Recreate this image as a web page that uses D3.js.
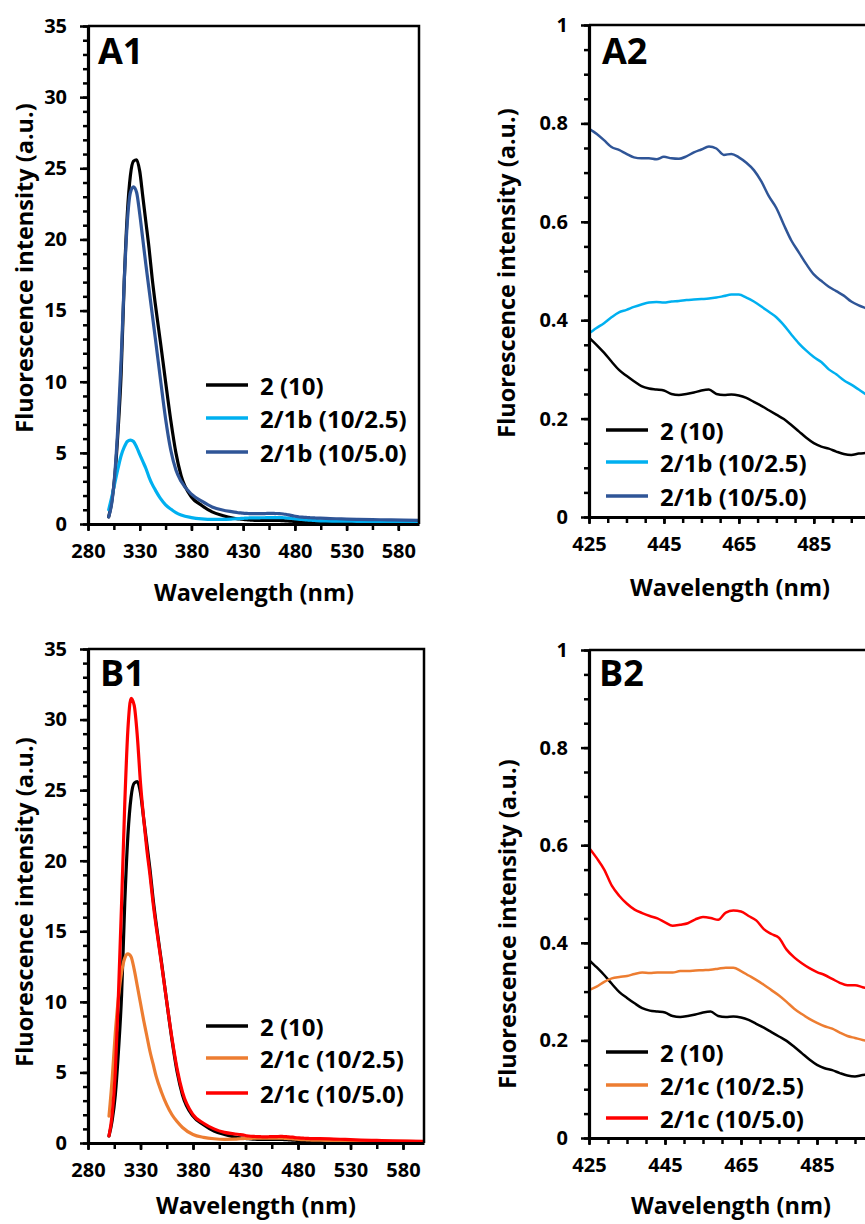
<!DOCTYPE html>
<html>
<head>
<meta charset="utf-8">
<script src="https://cdn.jsdelivr.net/npm/d3@7"></script>
<style>
  body { margin: 0; background: #fff; }
  svg { display: block; }
  text { font-family: "Open Sans", sans-serif; font-weight: 700; fill: #000; }
</style>
</head>
<body>
<svg id="fig" width="865" height="1224"></svg>
<script>
// Emission wavelengths (nm) shared by every spectrum
const wavelength = [
  300, 303, 306, 309, 312, 315, 318, 321, 324, 327, 330, 333, 336, 339, 342, 345,
  350, 355, 360, 365, 370, 380, 390, 400, 410, 420,
  425, 427, 429, 431, 433, 435, 437, 439, 441, 443, 445, 447, 449, 451, 453, 455,
  457, 459, 461, 463, 465, 467, 469, 471, 473, 475, 477, 479, 481, 483, 485, 487,
  489, 491, 493, 495, 497, 499, 501,
  510, 525, 540, 555, 570, 585, 600
];

// Fluorescence intensity (a.u.) of each mixture
const int2 = [
  0.5, 1.6, 3.4, 6.5, 10.5, 17.0, 21.8, 24.5, 25.5, 25.6, 24.8, 23.0, 21.2, 19.4, 17.3, 15.5,
  12.8, 10.0, 7.3, 5.0, 3.4, 1.9, 1.3, 0.85, 0.6, 0.42,
  0.365, 0.350, 0.334, 0.316, 0.299, 0.287, 0.276, 0.266, 0.261, 0.259, 0.257, 0.250, 0.248, 0.250, 0.253, 0.257,
  0.259, 0.250, 0.248, 0.249, 0.247, 0.242, 0.234, 0.226, 0.217, 0.208, 0.199, 0.187, 0.174, 0.161, 0.150, 0.143,
  0.139, 0.133, 0.128, 0.126, 0.129, 0.130, 0.131,
  0.12, 0.10, 0.08, 0.07, 0.06, 0.05, 0.05
];
const int2_1b_25 = [
  1.0, 1.9, 2.9, 3.9, 4.8, 5.4, 5.8, 5.9, 5.8, 5.4, 4.9, 4.4, 3.9, 3.3, 2.8, 2.4,
  1.8, 1.35, 1.05, 0.8, 0.63, 0.45, 0.36, 0.32, 0.32, 0.35,
  0.373, 0.384, 0.394, 0.406, 0.416, 0.421, 0.427, 0.432, 0.436, 0.437, 0.436, 0.438, 0.439, 0.441, 0.442, 0.443,
  0.444, 0.446, 0.449, 0.452, 0.452, 0.446, 0.438, 0.428, 0.417, 0.406, 0.390, 0.371, 0.353, 0.338, 0.325, 0.315,
  0.300, 0.290, 0.278, 0.269, 0.259, 0.249, 0.242,
  0.22, 0.20, 0.19, 0.18, 0.17, 0.16, 0.15
];
const int2_1b_50 = [
  0.5, 1.5, 3.6, 7.0, 11.5, 17.0, 21.2, 23.3, 23.7, 23.3, 21.8, 20.0, 18.2, 16.5, 14.8, 13.1,
  10.2, 7.4, 5.2, 3.8, 3.0, 2.1, 1.6, 1.2, 0.98, 0.85,
  0.790, 0.779, 0.766, 0.752, 0.746, 0.738, 0.731, 0.729, 0.729, 0.727, 0.732, 0.729, 0.728, 0.733, 0.741, 0.747,
  0.753, 0.749, 0.736, 0.738, 0.731, 0.720, 0.705, 0.682, 0.652, 0.628, 0.594, 0.562, 0.538, 0.514, 0.493, 0.480,
  0.468, 0.459, 0.450, 0.438, 0.430, 0.424, 0.418,
  0.39, 0.36, 0.33, 0.31, 0.29, 0.27, 0.26
];
const int2_1c_25 = [
  1.9, 4.5, 7.8, 10.3, 12.1, 13.1, 13.4, 13.2, 12.3, 11.1, 9.9, 8.7, 7.6, 6.5, 5.6, 4.7,
  3.6, 2.7, 2.0, 1.5, 1.1, 0.6, 0.4, 0.3, 0.26, 0.27,
  0.303, 0.310, 0.320, 0.327, 0.330, 0.332, 0.336, 0.339, 0.338, 0.339, 0.339, 0.339, 0.342, 0.342, 0.343, 0.344,
  0.345, 0.347, 0.349, 0.349, 0.342, 0.333, 0.324, 0.314, 0.303, 0.292, 0.279, 0.265, 0.254, 0.244, 0.236, 0.229,
  0.224, 0.216, 0.209, 0.205, 0.201, 0.198, 0.196,
  0.18, 0.16, 0.14, 0.13, 0.12, 0.11, 0.10
];
const int2_1c_50 = [
  0.5, 2.0, 5.0, 10.5, 17.0, 24.0, 29.3, 31.5, 31.0, 28.8, 25.5, 23.0, 20.8, 19.0, 17.0, 15.3,
  12.7, 10.0, 7.4, 5.2, 3.6, 2.0, 1.4, 1.0, 0.75, 0.64,
  0.595, 0.574, 0.550, 0.517, 0.496, 0.480, 0.468, 0.461, 0.455, 0.450, 0.442, 0.435, 0.437, 0.440, 0.448, 0.453,
  0.451, 0.447, 0.462, 0.466, 0.464, 0.455, 0.446, 0.428, 0.418, 0.410, 0.386, 0.370, 0.358, 0.348, 0.340, 0.334,
  0.326, 0.318, 0.313, 0.313, 0.309, 0.305, 0.303,
  0.29, 0.25, 0.21, 0.18, 0.15, 0.13, 0.12
];

// Legend entries
const labels1b = ["2 (10)", "2/1b (10/2.5)", "2/1b (10/5.0)"];
const labels1c = ["2 (10)", "2/1c (10/2.5)", "2/1c (10/5.0)"];

// Tick labels
const xTicksFull = [280, 330, 380, 430, 480, 530, 580];
const yTicksFull = [0, 5, 10, 15, 20, 25, 30, 35];
const xTicksZoom = [425, 445, 465, 485];
const yTicksZoom = [0, 0.2, 0.4, 0.6, 0.8, 1];

const colors = {
  black: "#000000",
  lightBlue: "#00B0F0",
  darkBlue: "#2F5597",
  orange: "#ED7D31",
  red: "#FF0000"
};

const setB = [
  { name: labels1b[0], values: int2, color: colors.black },
  { name: labels1b[1], values: int2_1b_25, color: colors.lightBlue },
  { name: labels1b[2], values: int2_1b_50, color: colors.darkBlue }
];
const setC = [
  { name: labels1c[0], values: int2, color: colors.black },
  { name: labels1c[1], values: int2_1c_25, color: colors.orange },
  { name: labels1c[2], values: int2_1c_50, color: colors.red }
];

const panels = [
  { tag: "A1", left: 88, right: 419, top: 26, bottom: 524,
    xDom: [280, 600], yDom: [0, 35], xTicks: xTicksFull, yTicks: yTicksFull,
    xMinorStep: 25, yMinorStep: 1, series: setB, lineW: 3.2,
    legend: { x: 206, rows: [385, 418, 452] },
    letter: [98, 64], yTitle: [24, 268], xTitle: [254, 592] },
  { tag: "A2", left: 589, right: 870, top: 25, bottom: 517,
    xDom: [425, 500], yDom: [0, 1], xTicks: xTicksZoom, yTicks: yTicksZoom,
    xMinorStep: 5, yMinorStep: 0.05, series: setB, lineW: 2.5,
    legend: { x: 606, rows: [430, 462, 496] },
    letter: [602, 64], yTitle: [506, 273], xTitle: [730, 587] },
  { tag: "B1", left: 88, right: 424, top: 649, bottom: 1143,
    xDom: [280, 600], yDom: [0, 35], xTicks: xTicksFull, yTicks: yTicksFull,
    xMinorStep: 25, yMinorStep: 1, series: setC, lineW: 3.2,
    legend: { x: 206, rows: [1026, 1058, 1093] },
    letter: [100, 686], yTitle: [24, 902], xTitle: [256, 1205] },
  { tag: "B2", left: 589, right: 874, top: 650, bottom: 1138,
    xDom: [425, 500], yDom: [0, 1], xTicks: xTicksZoom, yTicks: yTicksZoom,
    xMinorStep: 5, yMinorStep: 0.05, series: setC, lineW: 2.5,
    legend: { x: 606, rows: [1052, 1085, 1118] },
    letter: [599, 686], yTitle: [507, 924], xTitle: [731, 1205] }
];

const svg = d3.select("#fig");
const defs = svg.append("defs");

panels.forEach((p, i) => {
  const x = d3.scaleLinear().domain(p.xDom).range([p.left, p.right]);
  const y = d3.scaleLinear().domain(p.yDom).range([p.bottom, p.top]);
  const g = svg.append("g").attr("class", "panel-" + p.tag);

  const clipId = "clip-" + i;
  defs.append("clipPath").attr("id", clipId)
    .append("rect")
    .attr("x", p.left).attr("y", p.top)
    .attr("width", p.right - p.left).attr("height", p.bottom - p.top);

  // spectra
  const line = d3.line()
    .x((d, k) => x(wavelength[k]))
    .y(d => y(d))
    .curve(d3.curveMonotoneX);
  const lines = g.append("g").attr("clip-path", `url(#${clipId})`);
  p.series.forEach(s => {
    lines.append("path")
      .attr("d", line(s.values))
      .attr("fill", "none")
      .attr("stroke", s.color)
      .attr("stroke-width", p.lineW)
      .attr("stroke-linejoin", "round")
      .attr("stroke-linecap", "round");
  });

  // plot frame (top and right edges)
  g.append("path")
    .attr("d", `M${p.left},${p.top}H${p.right}V${p.bottom}`)
    .attr("fill", "none").attr("stroke", "#000").attr("stroke-width", 2.5);

  // minor ticks
  const xMinor = d3.range(p.xDom[0], p.xDom[1] + 1e-9, p.xMinorStep);
  const yMinor = d3.range(0, Math.round((p.yDom[1] - p.yDom[0]) / p.yMinorStep) + 1)
    .map(k => p.yDom[0] + k * p.yMinorStep);

  const minorX = g.append("g").attr("transform", `translate(0,${p.bottom})`)
    .call(d3.axisBottom(x).tickValues(xMinor).tickSize(6).tickSizeOuter(0).tickFormat(""));
  const minorY = g.append("g").attr("transform", `translate(${p.left},0)`)
    .call(d3.axisLeft(y).tickValues(yMinor).tickSize(5).tickSizeOuter(0).tickFormat(""));
  [minorX, minorY].forEach(a => {
    a.select(".domain").remove();
    a.selectAll(".tick line").attr("stroke", "#000").attr("stroke-width", 2.5);
  });

  // major ticks and labels
  const ax = g.append("g").attr("transform", `translate(0,${p.bottom})`)
    .call(d3.axisBottom(x).tickValues(p.xTicks).tickSize(7).tickSizeOuter(0).tickPadding(13));
  const ay = g.append("g").attr("transform", `translate(${p.left},0)`)
    .call(d3.axisLeft(y).tickValues(p.yTicks).tickSize(8).tickSizeOuter(0).tickPadding(13)
      .tickFormat(d => String(+d.toFixed(2))));
  [ax, ay].forEach(a => {
    a.select(".domain").attr("stroke", "#000").attr("stroke-width", 3.2);
    a.selectAll(".tick line").attr("stroke", "#000").attr("stroke-width", 2.5);
    a.selectAll(".tick text")
      .style("font-family", '"Open Sans", sans-serif')
      .style("font-weight", 700)
      .style("font-size", "20px")
      .attr("fill", "#000");
  });

  // panel letter
  g.append("text")
    .attr("x", p.letter[0]).attr("y", p.letter[1])
    .style("font-size", "36px")
    .text(p.tag);

  // axis titles
  g.append("text")
    .attr("transform", `translate(${p.yTitle[0]},${p.yTitle[1]}) rotate(-90)`)
    .attr("text-anchor", "middle")
    .attr("dominant-baseline", "central")
    .style("font-size", "23.5px")
    .text("Fluorescence intensity (a.u.)");
  g.append("text")
    .attr("x", p.xTitle[0]).attr("y", p.xTitle[1])
    .attr("text-anchor", "middle")
    .attr("dominant-baseline", "central")
    .style("font-size", "23.5px")
    .text("Wavelength (nm)");

  // legend
  const lg = g.append("g");
  p.series.forEach((s, k) => {
    const yy = p.legend.rows[k];
    lg.append("line")
      .attr("x1", p.legend.x).attr("x2", p.legend.x + 42)
      .attr("y1", yy).attr("y2", yy)
      .attr("stroke", s.color).attr("stroke-width", 3.5);
    lg.append("text")
      .attr("x", p.legend.x + 54).attr("y", yy)
      .attr("dominant-baseline", "central")
      .style("font-size", "24px")
      .text(s.name);
  });
});
</script>
</body>
</html>
